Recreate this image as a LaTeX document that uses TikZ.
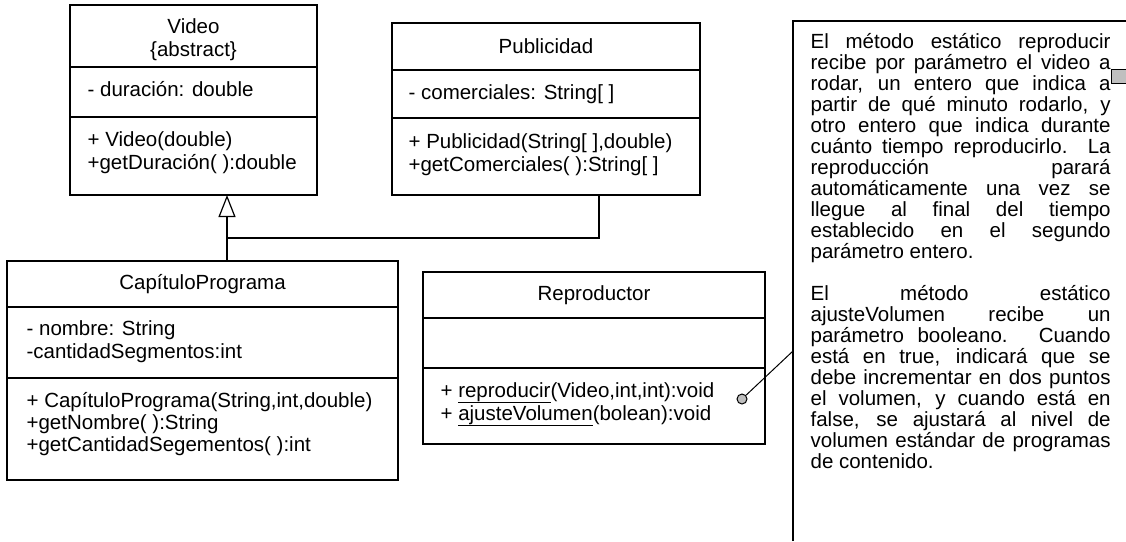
\documentclass[tikz,border=0pt]{standalone}
\usepackage{fontspec}
\setmainfont{Liberation Sans}
\usetikzlibrary{arrows.meta}
\newcommand\umltxt[1]{\fontsize{20.5}{23}\selectfont\parbox[t]{380pt}{\fontsize{20.5}{23}\selectfont #1}}
\newcommand\jl[1]{\makebox[300pt][s]{#1}}
\begin{document}
\begin{tikzpicture}[x=1pt,y=-1pt,line width=1.2pt,
  comp/.style={draw,line width=1.2pt,anchor=north west,inner sep=0pt,outer sep=0pt},
  ttl/.style={inner sep=0pt,font=\fontsize{20.5}{23}\selectfont,align=center},
  lst/.style={inner sep=0pt,anchor=base west},
  inh/.style={-{Triangle[open,length=22pt,width=17pt]}}]
\useasboundingbox[fill=white] (0,0) rectangle (1126,541);

% Video
\node[comp,minimum width=247pt,minimum height=62pt] (vidT) at (70,5) {};
\node[comp,minimum width=247pt,minimum height=50pt] (vidA) at (70,67) {};
\node[comp,minimum width=247pt,minimum height=78pt] (vidM) at (70,117) {};
\node[ttl] (vidN) at ([yshift=-4pt]vidT.center) {Video\\\{abstract\}};
\node[lst] (vidAt) at ([xshift=17pt,yshift=-29pt]vidA.north west) {\umltxt{- duración: double}};
\node[lst] (vidMt) at ([xshift=17pt,yshift=-29pt]vidM.north west) {\umltxt{+ Video(double)\\+getDuración( ):double}};

% Publicidad
\node[comp,minimum width=308pt,minimum height=47pt] (pubT) at (392,23) {};
\node[comp,minimum width=308pt,minimum height=48pt] (pubA) at (392,70) {};
\node[comp,minimum width=308pt,minimum height=77pt] (pubM) at (392,118) {};
\node[ttl] (pubN) at (pubT.center) {Publicidad};
\node[lst] (pubAt) at ([xshift=16pt,yshift=-29pt]pubA.north west) {\umltxt{- comerciales: String[ ]}};
\node[lst] (pubMt) at ([xshift=16pt,yshift=-30pt]pubM.north west) {\umltxt{+ Publicidad(String[ ],double)\\+getComerciales( ):String[ ]}};

% CapituloPrograma
\node[comp,minimum width=391pt,minimum height=46pt] (capT) at (7,261) {};
\node[comp,minimum width=391pt,minimum height=71pt] (capA) at (7,307) {};
\node[comp,minimum width=391pt,minimum height=102pt] (capM) at (7,378) {};
\node[ttl] (capN) at (capT.center) {CapítuloPrograma};
\node[lst] (capAt) at ([xshift=19pt,yshift=-28pt]capA.north west) {\umltxt{- nombre: String\\-cantidadSegmentos:int}};
\node[lst] (capMt) at ([xshift=19pt,yshift=-29pt]capM.north west) {\fontsize{20.5}{22}\selectfont\parbox[t]{380pt}{\fontsize{20.5}{22}\selectfont + CapítuloPrograma(String,int,double)\\+getNombre( ):String\\+getCantidadSegementos( ):int}};

% Reproductor
\node[comp,minimum width=342pt,minimum height=46pt] (repT) at (423,272) {};
\node[comp,minimum width=342pt,minimum height=50pt] (repA) at (423,318) {};
\node[comp,minimum width=342pt,minimum height=76pt] (repM) at (423,368) {};
\node[ttl] (repN) at (repT.center) {Reproductor};
\node[lst] (repMt) at ([xshift=17pt,yshift=-29pt]repM.north west) {\umltxt{+ \underline{reproducir}(Video,int,int):void\\+ \underline{ajusteVolumen}(bolean):void}};

% generalization
\coordinate (gx) at (227,238);
\coordinate (jn) at (599,238);
\draw[inh] (capT.north -| gx) -- (vidM.south -| gx);
\draw (pubM.south -| jn) -- (jn) -- (gx);

% note
\coordinate (nbl) at (793,541);
\coordinate (ntl) at (793,21);
\coordinate (ntr) at (1126,21);
\draw (nbl) -- (ntl) -- (ntr);
\draw[fill=black!25,line width=1pt] (1111,69) rectangle (1130,83);
\node[lst] (note) at (810,48) {\parbox[t]{300pt}{\fontsize{20.5}{21}\selectfont
\jl{El método estático reproducir}\\
\jl{recibe por parámetro el video a}\\
\jl{rodar, un entero que indica a}\\
\jl{partir de qué minuto rodarlo, y}\\
\jl{otro entero que indica durante}\\
\jl{cuánto tiempo reproducirlo. La}\\
\jl{reproducción parará}\\
\jl{automáticamente una vez se}\\
\jl{llegue al final del tiempo}\\
\jl{establecido en el segundo}\\
parámetro entero.\\[21pt]
\jl{El método estático}\\
\jl{ajusteVolumen recibe un}\\
\jl{parámetro booleano. Cuando}\\
\jl{está en true, indicará que se}\\
\jl{debe incrementar en dos puntos}\\
\jl{el volumen, y cuando está en}\\
\jl{false, se ajustará al nivel de}\\
\jl{volumen estándar de programas}\\
de contenido.}};

% anchor of note
\node[draw,circle,fill=black!25,line width=1pt,minimum size=10pt,inner sep=0pt] (pin) at (742,399) {};
\coordinate (nat) at (793,351);
\draw[line width=1pt] (pin) -- (nat);
\end{tikzpicture}
\end{document}
